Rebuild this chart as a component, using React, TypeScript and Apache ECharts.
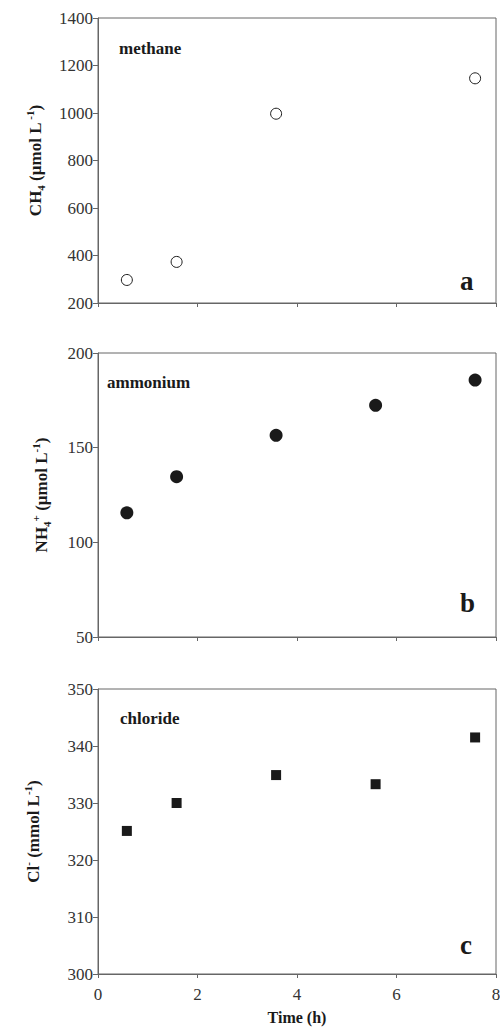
import React, { useEffect, useRef } from "react";
import * as echarts from "echarts";

const timeA = [0.58, 1.58, 3.58, 7.58];
const methane = [297, 373, 997, 1146];
const timeBC = [0.58, 1.58, 3.58, 5.58, 7.58];
const ammonium = [115.6, 134.7, 156.5, 172.4, 185.7];
const chloride = [325.1, 330.0, 334.9, 333.3, 341.5];
const xTicks = [0, 2, 4, 6, 8];

const FONT = "'Liberation Serif', 'Times New Roman', serif";
const AXIS = "#666";
const INK = "#1a1a1a";

const grids = [
  { left: 98, right: 4, top: 18, height: 285 },
  { left: 98, right: 4, top: 353, height: 284 },
  { left: 98, right: 4, top: 689, height: 285 },
];

function pairs(xs: number[], ys: number[]) {
  return xs.map((x, i) => [x, ys[i]]);
}

const richName = {
  b: { fontFamily: FONT, fontWeight: "bold", fontSize: 17, color: INK, lineHeight: 22 },
  sup: { fontFamily: FONT, fontWeight: "bold", fontSize: 11, color: INK, verticalAlign: "top", lineHeight: 22 },
  sub: { fontFamily: FONT, fontWeight: "bold", fontSize: 11, color: INK, verticalAlign: "bottom", lineHeight: 22 },
};

export default function App() {
  const ref = useRef<HTMLDivElement>(null);
  useEffect(() => {
    if (!ref.current) return;
    const chart = echarts.init(ref.current, undefined, { renderer: "svg" });
    const xAxis = [0, 1, 2].map((i) => ({
      type: "value",
      gridIndex: i,
      min: xTicks[0],
      max: xTicks[xTicks.length - 1],
      interval: 2,
      axisLine: { show: true, lineStyle: { color: AXIS, width: 1 } },
      axisTick: { show: true, length: 4, lineStyle: { color: AXIS } },
      splitLine: { show: false },
      axisLabel: {
        show: i === 2,
        fontFamily: FONT,
        fontSize: 17,
        color: "#333",
        margin: 12,
        formatter: (v: number) => String(v),
      },
      name: i === 2 ? "Time (h)" : "",
      nameLocation: "middle",
      nameGap: 35,
      nameTextStyle: { fontFamily: FONT, fontWeight: "bold", fontSize: 16, color: INK },
    }));
    const yCfg = [
      { min: 200, max: 1400, interval: 200, name: "{b|CH}{sub|4}{b| (µmol L}{sup| -1}{b|)}", gap: 52 },
      { min: 50, max: 200, interval: 50, name: "{b|NH}{sub|4}{sup|+}{b| (µmol L}{sup|-1}{b|)}", gap: 46 },
      { min: 300, max: 350, interval: 10, name: "{b|Cl}{sup|-}{b| (mmol L}{sup|-1}{b|)}", gap: 54 },
    ];
    const yAxis = yCfg.map((c, i) => ({
      type: "value",
      gridIndex: i,
      min: c.min,
      max: c.max,
      interval: c.interval,
      axisLine: { show: true, lineStyle: { color: AXIS, width: 1 } },
      axisTick: { show: true, length: 5, lineStyle: { color: AXIS } },
      splitLine: { show: false },
      axisLabel: {
        fontFamily: FONT,
        fontSize: 17,
        color: "#333",
        margin: 5,
        formatter: (v: number) => String(v),
      },
      name: c.name,
      nameLocation: "middle",
      nameRotate: 90,
      nameGap: c.gap,
      nameTextStyle: { rich: richName },
    }));
    const option = {
      animation: false,
      backgroundColor: "#fff",
      grid: grids.map((g) => ({
        ...g,
        show: true,
        borderColor: AXIS,
        borderWidth: 1,
        backgroundColor: "transparent",
        containLabel: false,
        outerBoundsMode: "none",
      })),
      xAxis,
      yAxis,
      series: [
        {
          type: "scatter",
          xAxisIndex: 0,
          yAxisIndex: 0,
          data: pairs(timeA, methane),
          symbol: "circle",
          symbolSize: 11,
          itemStyle: { color: "#fff", borderColor: INK, borderWidth: 1, opacity: 1 },
        },
        {
          type: "scatter",
          xAxisIndex: 1,
          yAxisIndex: 1,
          data: pairs(timeBC, ammonium),
          symbol: "circle",
          symbolSize: 13,
          itemStyle: { color: INK, opacity: 1 },
        },
        {
          type: "scatter",
          xAxisIndex: 2,
          yAxisIndex: 2,
          data: pairs(timeBC, chloride),
          symbol: "rect",
          symbolSize: 10,
          itemStyle: { color: INK, opacity: 1 },
        },
      ],
      graphic: [
        { type: "text", left: 119, top: 40, style: { text: "methane", font: `bold 17px ${FONT}`, fill: INK } },
        { type: "text", left: 107, top: 374, style: { text: "ammonium", font: `bold 17px ${FONT}`, fill: INK } },
        { type: "text", left: 120, top: 710, style: { text: "chloride", font: `bold 17px ${FONT}`, fill: INK } },
        { type: "text", left: 460, top: 267, style: { text: "a", font: `bold 27px ${FONT}`, fill: INK } },
        { type: "text", left: 460, top: 589, style: { text: "b", font: `bold 27px ${FONT}`, fill: INK } },
        { type: "text", left: 460, top: 931, style: { text: "c", font: `bold 27px ${FONT}`, fill: INK } },
      ],
    };
    chart.setOption(option as any);
    return () => chart.dispose();
  }, []);
  return (
    <div
      ref={ref}
      style={{ position: "absolute", left: 0, top: 0, width: 500, height: 1027 }}
    />
  );
}
